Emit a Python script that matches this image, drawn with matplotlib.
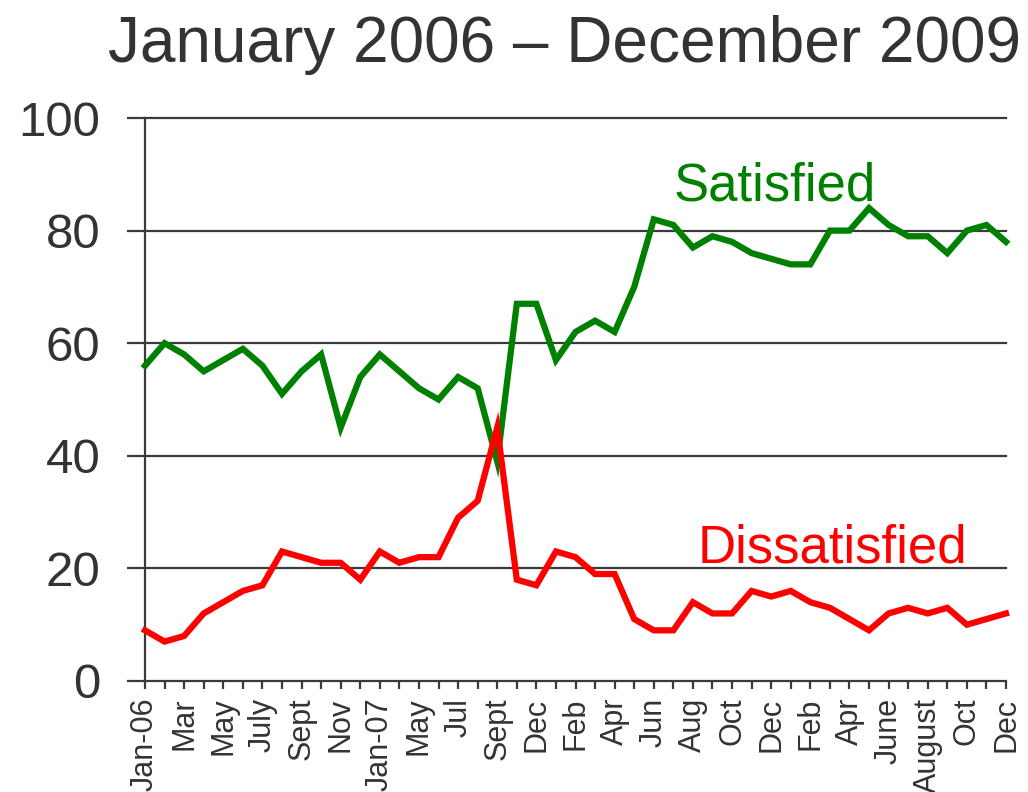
import matplotlib
matplotlib.use("Agg")
import matplotlib.pyplot as plt

# --- data ---
satisfied = [56, 60, 58, 55, 57, 59, 56, 51, 55, 58,
             45, 54, 58, 55, 52, 50, 54, 52, 39, 67,
             67, 57, 62, 64, 62, 70, 82, 81, 77, 79,
             78, 76, 75, 74, 74, 80, 80, 84, 81, 79,
             79, 76, 80, 81, 78]
dissatisfied = [9, 7, 8, 12, 14, 16, 17, 23, 22, 21,
                21, 18, 23, 21, 22, 22, 29, 32, 45, 18,
                17, 23, 22, 19, 19, 11, 9, 9, 14, 12,
                12, 16, 15, 16, 14, 13, 11, 9, 12, 13,
                12, 13, 10, 11, 12]
tick_names = ['Jan-06', 'Mar', 'May', 'July', 'Sept', 'Nov', 'Jan-07', 'May',
              'Jul', 'Sept', 'Dec', 'Feb', 'Apr', 'Jun', 'Aug', 'Oct', 'Dec',
              'Feb', 'Apr', 'June', 'August', 'Oct', 'Dec']
y_ticks = [0, 20, 40, 60, 80, 100]

plt.rcParams['font.family'] = ['Liberation Sans', 'DejaVu Sans']
txt = '#333333'
axc = '#3a3a3a'

fig = plt.figure(figsize=(10.28, 7.92), dpi=100)
ax = fig.add_axes([145 / 1028, 111 / 792, 861 / 1028, 563 / 792])

x = list(range(len(satisfied)))
ax.plot(x, satisfied, color='#008000', lw=4.5, solid_joinstyle='miter', clip_on=False, zorder=3)
ax.plot(x, dissatisfied, color='#ff0000', lw=4.5, solid_joinstyle='miter', clip_on=False, zorder=3)

ax.set_xlim(0, len(x) - 1)
ax.set_ylim(0, 100)

# horizontal gridlines
for v in y_ticks[1:]:
    ax.axhline(v, color=axc, lw=1.6, zorder=1, clip_on=False)

ax.set_yticks(y_ticks)
ax.set_yticklabels([str(v) for v in y_ticks], fontsize=35.5, color=txt)
ax.tick_params(axis='y', length=13, width=1.6, color=axc, pad=19)

ax.set_xticks(x)
labels = []
for i in x:
    labels.append(tick_names[i // 2] if i % 2 == 0 else '')
ax.set_xticklabels(labels, rotation=90, fontsize=22, color=txt)
ax.tick_params(axis='x', length=6, width=1.6, color=axc, pad=6)

for s in ['top', 'right']:
    ax.spines[s].set_visible(False)
for s in ['left', 'bottom']:
    ax.spines[s].set_color(axc)
    ax.spines[s].set_linewidth(1.6)

ax.text(27, 85.4, 'Satisfied', color='#008000', fontsize=38, ha='left', va='baseline')
ax.text(28.25, 21.1, 'Dissatisfied', color='#ff0000', fontsize=38, ha='left', va='baseline')

fig.text(565 / 1028, 730 / 792, 'January 2006 \u2013 December 2009',
         fontsize=46, color=txt, ha='center', va='baseline')

fig.savefig('out.png', dpi=100)
